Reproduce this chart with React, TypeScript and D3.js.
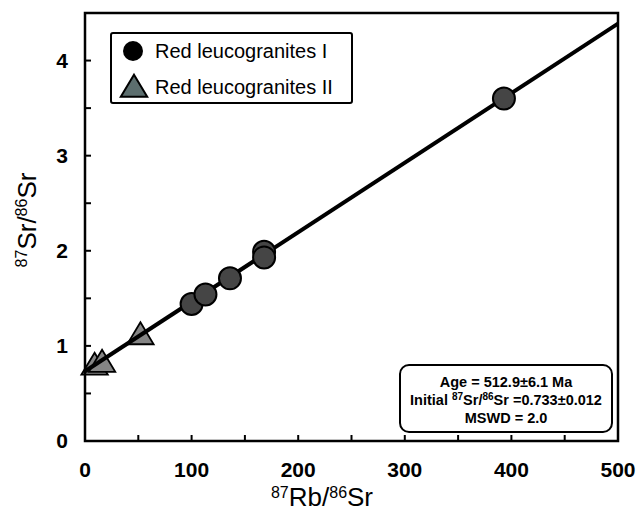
import * as d3 from "d3";

// Red leucogranites I (circles)
const groupIX: number[] = [100, 113, 136, 168, 168, 393];
const groupIY: number[] = [1.44, 1.54, 1.71, 1.99, 1.93, 3.6];
// Red leucogranites II (triangles)
const groupIIX: number[] = [9, 16, 52];
const groupIIY: number[] = [0.79, 0.82, 1.11];

const xTicks: number[] = [0, 100, 200, 300, 400, 500];
const yTicks: number[] = [0, 1, 2, 3, 4];
const legendLabels: string[] = ["Red leucogranites I", "Red leucogranites II"];

// isochron
const intercept = 0.733;
const slope = 0.00731;

const W = 642;
const H = 517;
const FONT = "'Liberation Sans', Arial, sans-serif";

export default function App() {
  const x = d3.scaleLinear().domain([0, 500]).range([85, 618]);
  const y = d3.scaleLinear().domain([0, 4.5]).range([441, 13]);

  const lineGen = d3
    .line<number>()
    .x((d) => x(d))
    .y((d) => y(intercept + slope * d));

  const triPath = (cx: number, cy: number, s: number) =>
    `M${cx},${cy - s * 0.6}L${cx + s * 0.6},${cy + s * 0.4}L${cx - s * 0.6},${cy + s * 0.4}Z`;

  const xMinor = d3.range(0, 501, 50);
  const yMinor = d3.range(0, 4.51, 0.5);

  return (
    <svg width={W} height={H} style={{ position: "absolute", left: 0, top: 0 }} fontFamily={FONT}>
      <rect width={W} height={H} fill="#fff" />

      {/* ticks */}
      {xMinor.map((t) => (
        <line key={"xt" + t} x1={x(t)} x2={x(t)} y1={y(0)} y2={y(0) - 6} stroke="#000" strokeWidth={2} />
      ))}
      {yMinor.map((t) => (
        <line key={"yt" + t} x1={x(0)} x2={x(0) + 6} y1={y(t)} y2={y(t)} stroke="#000" strokeWidth={2} />
      ))}

      {/* data: triangles */}
      {groupIIX.map((v, i) => (
        <path key={"tr" + i} d={triPath(x(v), y(groupIIY[i]), 22)} fill="#858585" stroke="#000" strokeWidth={1.8} />
      ))}

      {/* isochron line */}
      <path d={lineGen([0, 500]) || ""} fill="none" stroke="#000" strokeWidth={4} />

      {/* frame */}
      <rect x={x(0)} y={y(4.5)} width={x(500) - x(0)} height={y(0) - y(4.5)} fill="none" stroke="#000" strokeWidth={2.5} />

      {/* data: circles */}
      {groupIX.map((v, i) => (
        <circle key={"c" + i} cx={x(v)} cy={y(groupIY[i])} r={11} fill="#454545" stroke="#000" strokeWidth={2} />
      ))}

      {/* x tick labels */}
      {xTicks.map((t) => (
        <text key={"xl" + t} x={x(t)} y={477} textAnchor="middle" fontSize={21} fontWeight="bold">
          {t}
        </text>
      ))}
      {/* y tick labels */}
      {yTicks.map((t) => (
        <text key={"yl" + t} x={68} y={y(t) + 7} textAnchor="end" fontSize={21} fontWeight="bold">
          {t}
        </text>
      ))}

      {/* axis titles */}
      <text x={322} y={506} textAnchor="middle" fontSize={26}>
        <tspan fontSize={16} dy={-8}>87</tspan>
        <tspan dy={8}>Rb/</tspan>
        <tspan fontSize={16} dy={-8}>86</tspan>
        <tspan dy={8}>Sr</tspan>
      </text>
      <text transform="translate(36,220) rotate(-90)" textAnchor="middle" fontSize={26}>
        <tspan fontSize={16} dy={-9}>87</tspan>
        <tspan dy={9}>Sr/</tspan>
        <tspan fontSize={16} dy={-9}>86</tspan>
        <tspan dy={9}>Sr</tspan>
      </text>

      {/* legend */}
      <rect x={111} y={33} width={241} height={70} fill="#fff" stroke="#000" strokeWidth={2} rx={2} />
      <circle cx={133} cy={51} r={10} fill="#000" />
      <text x={155} y={58} fontSize={20}>{legendLabels[0]}</text>
      <path d={triPath(134, 88, 22)} fill="#5c6e6e" stroke="#000" strokeWidth={2} />
      <text x={155} y={94} fontSize={20}>{legendLabels[1]}</text>

      {/* stats box */}
      <rect x={400} y={365} width={212} height={67} fill="#fff" stroke="#000" strokeWidth={2} rx={9} />
      <g textAnchor="middle" fontWeight="bold" fontSize={14.5}>
        <text x={506} y={387}>Age = 512.9±6.1 Ma</text>
        <text x={506} y={405}>
          Initial <tspan fontSize={10} dy={-5}>87</tspan>
          <tspan dy={5}>Sr/</tspan>
          <tspan fontSize={10} dy={-5}>86</tspan>
          <tspan dy={5}>Sr =0.733±0.012</tspan>
        </text>
        <text x={506} y={423}>MSWD = 2.0</text>
      </g>
    </svg>
  );
}
